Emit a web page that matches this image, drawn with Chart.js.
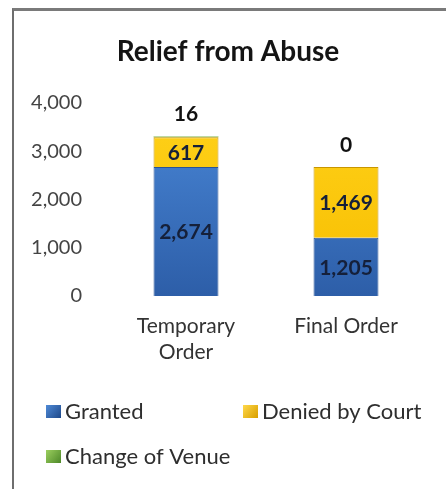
<!DOCTYPE html>
<html>
<head>
<meta charset="utf-8">
<script src="https://cdn.jsdelivr.net/npm/chart.js@4.4.0/dist/chart.umd.min.js"></script>
<style>
  html, body { margin: 0; padding: 0; background: #ffffff; }
  body { width: 446px; height: 489px; position: relative; overflow: hidden; }
  #frame { position: absolute; left: 12px; top: 8px; width: 460px; height: 478px;
           border-top: 3px solid #7a7a7a; border-left: 2px solid #6e6e6e; border-bottom: 1px solid #b0b0b0; }
  #wrap { position: absolute; left: 0; top: 0; width: 446px; height: 489px; }
</style>
</head>
<body>
<div id="frame"></div>
<div id="wrap"><canvas id="c" width="446" height="489"></canvas></div>
<script>
const chartTitle = 'Relief from Abuse';
const categories = [['Temporary', 'Order'], 'Final Order'];
const seriesNames = ['Granted', 'Denied by Court', 'Change of Venue'];
const granted = [2674, 1205];
const deniedByCourt = [617, 1469];
const changeOfVenue = [16, 0];
const yTicks = [0, 1000, 2000, 3000, 4000];

const FONT = 'Lato, "Open Sans", sans-serif';

function vGrad(chart, top, bottom) {
  const area = chart.chartArea;
  if (!area) return top;
  const g = chart.ctx.createLinearGradient(0, area.top, 0, area.bottom);
  g.addColorStop(0, top);
  g.addColorStop(1, bottom);
  return g;
}

const labelPlugin = {
  id: 'valueLabels',
  afterDatasetsDraw(chart) {
    const ctx = chart.ctx;
    ctx.save();
    ctx.textAlign = 'center';
    ctx.textBaseline = 'middle';
    chart.data.datasets.forEach((ds, di) => {
      const meta = chart.getDatasetMeta(di);
      meta.data.forEach((el, i) => {
        const v = ds.data[i];
        const txt = v.toLocaleString('en-US');
        ctx.font = 'bold 21px ' + FONT;
        if (di < 2) {
          ctx.fillStyle = '#15203a';
          ctx.fillText(txt, el.x, (el.y + el.base) / 2 + 1);
        } else {
          ctx.fillStyle = '#111111';
          ctx.fillText(txt, el.x, el.y - 22);
        }
      });
    });
    ctx.restore();
  }
};

const titleLegendPlugin = {
  id: 'titleLegend',
  afterDraw(chart) {
    const ctx = chart.ctx;
    ctx.save();
    ctx.font = 'bold 28px ' + FONT;
    ctx.fillStyle = '#141414';
    ctx.textAlign = 'center';
    ctx.textBaseline = 'middle';
    ctx.fillText(chartTitle, 228, 52);
    const colX = [46, 243];
    const rowY = [411, 456];
    ctx.font = '22px ' + FONT;
    ctx.textAlign = 'left';
    chart.data.datasets.forEach((ds, i) => {
      const x = colX[i % 2];
      const y = rowY[Math.floor(i / 2)];
      const g = ctx.createLinearGradient(x, y - 6, x + 15, y + 6);
      g.addColorStop(0, ds.legendLight);
      g.addColorStop(1, ds.legendDark);
      ctx.fillStyle = g;
      ctx.fillRect(x, y - 6, 15, 13);
      ctx.fillStyle = '#2e2e2e';
      ctx.fillText(ds.label, x + 19, y + 1);
    });
    ctx.restore();
  }
};

new Chart(document.getElementById('c'), {
  type: 'bar',
  data: {
    labels: categories,
    datasets: [
      { label: seriesNames[0], data: granted,
        backgroundColor: (c) => vGrad(c.chart, '#4a88d8', '#2d5ea8'),
        borderColor: '#2a5396', borderWidth: 1,
        legendLight: '#4f8ad6', legendDark: '#1f4a8c' },
      { label: seriesNames[1], data: deniedByCourt,
        backgroundColor: (c) => vGrad(c.chart, '#ffd21a', '#f7bd00'),
        borderColor: '#c89600', borderWidth: 1,
        legendLight: '#ffd84a', legendDark: '#d9a000' },
      { label: seriesNames[2], data: changeOfVenue,
        backgroundColor: '#7cb548',
        borderColor: '#5e9131', borderWidth: 0,
        legendLight: '#9ccf5f', legendDark: '#4f8a2a' }
    ]
  },
  options: {
    responsive: false,
    animation: false,
    devicePixelRatio: 1,
    layout: { padding: { top: 103, left: 0, right: 20, bottom: 113 } },
    plugins: { legend: { display: false }, title: { display: false }, tooltip: { enabled: false } },
    datasets: { bar: { barPercentage: 0.406, categoryPercentage: 1.0 } },
    scales: {
      x: {
        stacked: true,
        grid: { display: false, drawTicks: false },
        border: { display: false },
        ticks: { color: '#333333', font: { family: FONT, size: 21 }, padding: 18, maxRotation: 0 },
        afterFit(axis) { axis.height = 80; }
      },
      y: {
        stacked: true,
        min: 0, max: 4000,
        afterBuildTicks(axis) { axis.ticks = yTicks.map(v => ({ value: v })); },
        grid: { display: false, drawTicks: false },
        border: { display: false },
        ticks: { color: '#444444', font: { family: FONT, size: 20 },
                 padding: 24, callback: (v) => v.toLocaleString('en-US') },
        afterFit(axis) { axis.width = 106; }
      }
    }
  },
  plugins: [labelPlugin, titleLegendPlugin]
});
</script>
</body>
</html>
